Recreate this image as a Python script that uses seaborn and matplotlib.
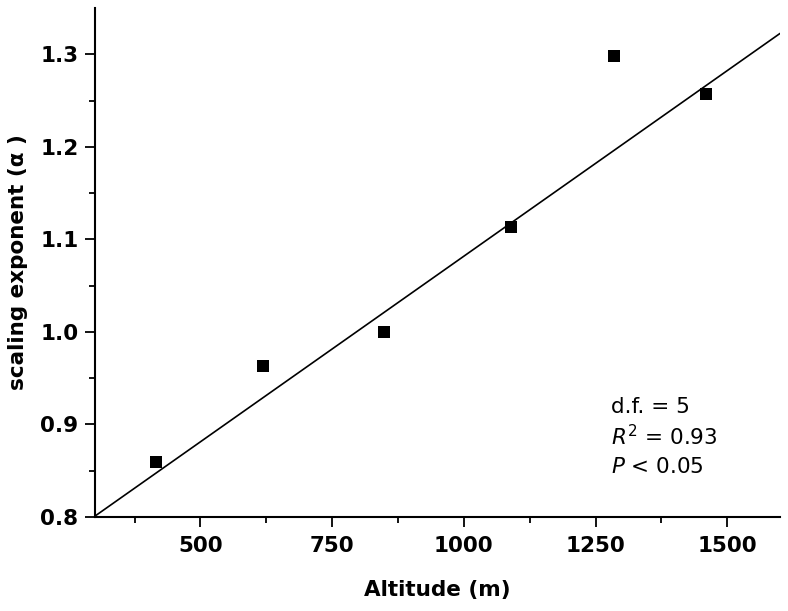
import numpy as np
import pandas as pd
import matplotlib
matplotlib.use("Agg")
import matplotlib.pyplot as plt
from matplotlib.ticker import FixedLocator, FormatStrFormatter
import seaborn as sns

# data
altitude = [415, 619, 848, 1090, 1285, 1459]
alpha = [0.859, 0.963, 1.000, 1.113, 1.298, 1.257]
fit_x = [300, 1600]
fit_y = [0.801, 1.3225]
stats_lines = ["d.f. = 5", r"$R^2$ = 0.93", r"$P$ < 0.05"]

sns.set_style("ticks", {"axes.edgecolor": "black", "text.color": "black",
                        "xtick.color": "black", "ytick.color": "black",
                        "axes.labelcolor": "black"})
plt.rcParams['font.family'] = ['DejaVu Sans']
plt.rcParams['mathtext.fontset'] = 'dejavusans'

fig = plt.figure(figsize=(7.88, 6.11), dpi=100)
ax = fig.add_axes([95 / 788, 1 - 517 / 611, 685 / 788, 509 / 611])

df = pd.DataFrame({"x": altitude, "y": alpha})
fit = pd.DataFrame({"x": fit_x, "y": fit_y})
sns.lineplot(data=fit, x="x", y="y", ax=ax, color="black", linewidth=1.2)
sns.scatterplot(data=df, x="x", y="y", ax=ax, marker="s", s=70, color="black",
                edgecolor="black", linewidth=0, zorder=3)

ax.set_xlim(300, 1600)
ax.set_ylim(0.8, 1.35)
ax.xaxis.set_major_locator(FixedLocator([500, 750, 1000, 1250, 1500]))
ax.xaxis.set_minor_locator(FixedLocator([375, 625, 875, 1125, 1375]))
ax.yaxis.set_major_locator(FixedLocator([0.8, 0.9, 1.0, 1.1, 1.2, 1.3]))
ax.yaxis.set_minor_locator(FixedLocator([0.85, 0.95, 1.05, 1.15, 1.25]))
ax.yaxis.set_major_formatter(FormatStrFormatter('%.1f'))

ax.tick_params(which="major", length=7, width=1.3, labelsize=15.5)
ax.tick_params(axis="y", which="major", pad=5)
ax.tick_params(axis="x", which="major", pad=7)
ax.tick_params(which="minor", length=4, width=1.3)
for lab in ax.get_xticklabels() + ax.get_yticklabels():
    lab.set_fontweight("bold")
for s in ["left", "bottom"]:
    ax.spines[s].set_linewidth(1.5)
sns.despine(ax=ax)

ax.set_xlabel("Altitude (m)", fontsize=15.5, fontweight="bold", labelpad=17)
ax.set_ylabel("scaling exponent (α )", fontsize=15.5, fontweight="bold", labelpad=9)

for i, t in enumerate(stats_lines):
    ax.text(0.753, 0.217 - i * 0.059, t, transform=ax.transAxes, fontsize=15.5,
            va="center", ha="left")

fig.savefig("out.png", dpi=100)
